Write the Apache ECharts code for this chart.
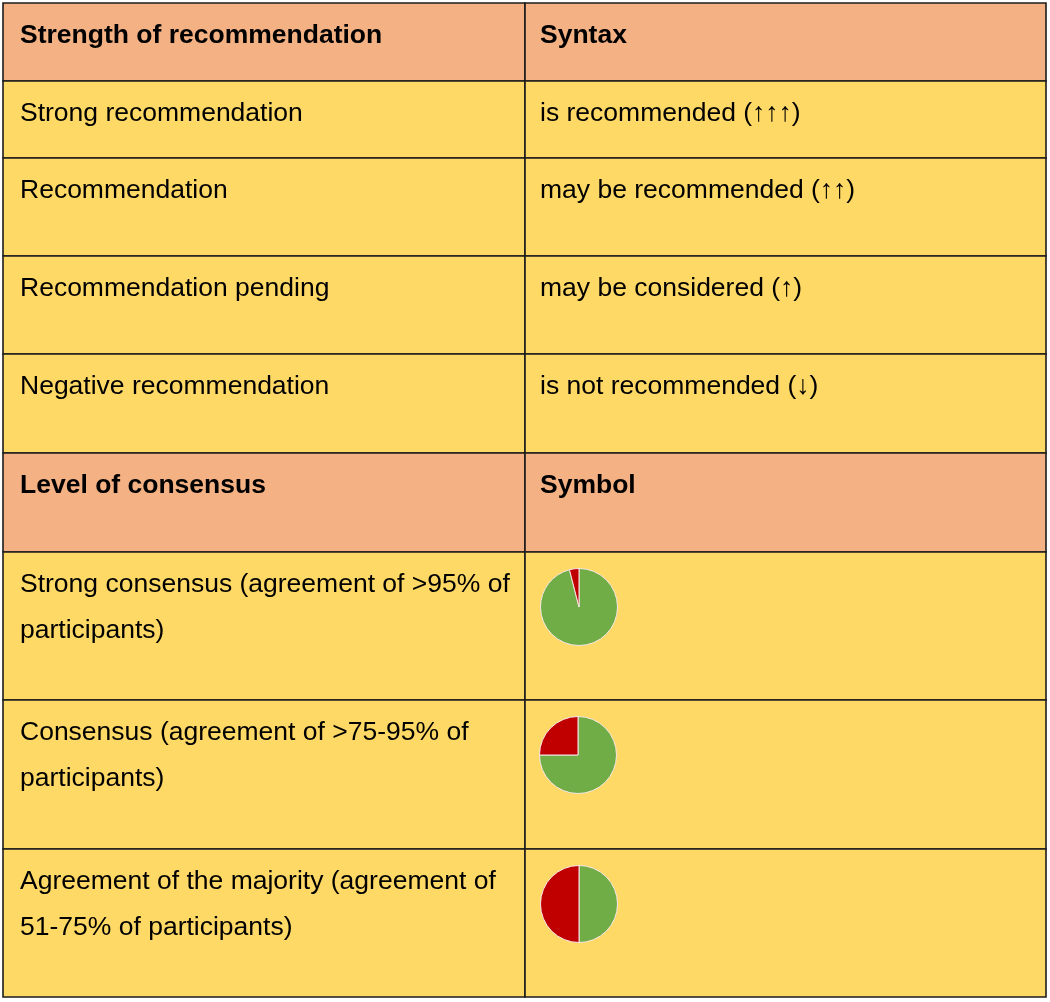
<!DOCTYPE html>
<html>
<head>
<meta charset="utf-8">
<script src="https://cdn.jsdelivr.net/npm/echarts@6/dist/echarts.min.js"></script>
<style>
html,body{margin:0;padding:0;background:#ffffff;}
#chart{width:1050px;height:1002px;}
</style>
</head>
<body>
<div id="chart"></div>
<script>
// ---- data ----
const headerTop = ['Strength of recommendation', 'Syntax'];
const strengthLabels = ['Strong recommendation', 'Recommendation', 'Recommendation pending', 'Negative recommendation'];
const syntaxLabels = ['is recommended (↑↑↑)', 'may be recommended (↑↑)', 'may be considered (↑)', 'is not recommended (↓)'];
const headerBottom = ['Level of consensus', 'Symbol'];
const consensusLabels = [
  'Strong consensus (agreement of >95% of\nparticipants)',
  'Consensus (agreement of >75-95% of\nparticipants)',
  'Agreement of the majority (agreement of\n51-75% of participants)'
];
const agreementShare = [96, 75, 50];
const disagreementShare = [4, 25, 50];

// ---- layout ----
const rowEdges = [3, 81, 158, 256, 354, 453, 552, 700, 849, 997];
const colEdges = [3, 525, 1046];
const headerColor = '#F4B183';
const bodyColor = '#FFD966';
const lineColor = '#1c1c1c';

const rows = [];
rows.push({ cells: headerTop, header: true });
strengthLabels.forEach((s, i) => rows.push({ cells: [s, syntaxLabels[i]], header: false }));
rows.push({ cells: headerBottom, header: true });
consensusLabels.forEach((s) => rows.push({ cells: [s, ''], header: false }));

const graphics = [];
rows.forEach((r, ri) => {
  const y0 = rowEdges[ri], y1 = rowEdges[ri + 1];
  for (let c = 0; c < 2; c++) {
    const x0 = colEdges[c], x1 = colEdges[c + 1];
    graphics.push({
      type: 'rect', silent: true, z: 1,
      shape: { x: x0, y: y0, width: x1 - x0, height: y1 - y0 },
      style: { fill: r.header ? headerColor : bodyColor, stroke: lineColor, lineWidth: 1.6 }
    });
    if (r.cells[c]) {
      graphics.push({
        type: 'text', silent: true, z: 5,
        x: x0 + (c === 0 ? 17 : 15), y: y0 + 10,
        style: {
          text: r.cells[c],
          fill: '#000000',
          fontFamily: 'Arial, Liberation Sans, sans-serif',
          fontSize: 26.5,
          fontWeight: r.header ? 'bold' : 'normal',
          lineHeight: 46,
          verticalAlign: 'top',
          align: 'left'
        }
      });
    }
  }
});

const pieCenters = [[579, 607], [578, 755], [579, 904]];
const series = agreementShare.map((g, i) => ({
  type: 'pie',
  z: 10,
  center: pieCenters[i],
  radius: 38.5,
  startAngle: 90,
  clockwise: true,
  silent: true,
  animation: false,
  label: { show: false },
  labelLine: { show: false },
  itemStyle: { borderColor: '#f5e6e6', borderWidth: 1 },
  data: [
    { value: g, name: 'Agreement', itemStyle: { color: '#70AD47' } },
    { value: disagreementShare[i], name: 'Disagreement', itemStyle: { color: '#C00000' } }
  ]
}));

const chart = echarts.init(document.getElementById('chart'), null, { renderer: 'canvas' });
chart.setOption({
  backgroundColor: '#ffffff',
  animation: false,
  graphic: { elements: graphics },
  series: series
});
</script>
</body>
</html>
